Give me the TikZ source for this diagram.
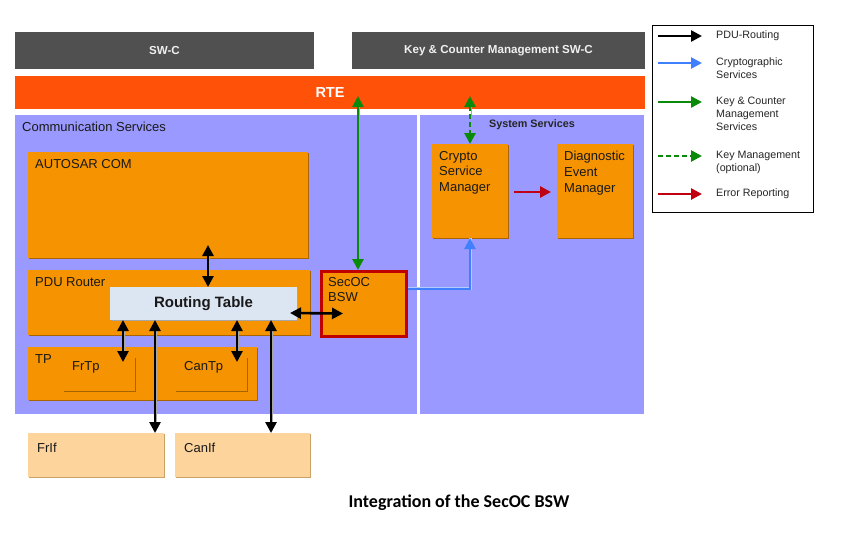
\documentclass[tikz,border=0pt]{standalone}
\usepackage{fontspec}
\setmainfont{Liberation Sans}
\newfontfamily\capfont{Carlito}
\usetikzlibrary{arrows.meta,calc,shadows}
\definecolor{swcgray}{HTML}{505050}
\definecolor{rtecol}{HTML}{FF5208}
\definecolor{panel}{HTML}{9999FF}
\definecolor{orangec}{HTML}{F59300}
\definecolor{orshadow}{HTML}{A86400}
\definecolor{lightor}{HTML}{FDD49B}
\definecolor{rtcol}{HTML}{DCE6F2}
\definecolor{secred}{HTML}{C00000}
\definecolor{grn}{HTML}{0A8A0A}
\definecolor{blu}{HTML}{4080FF}
\definecolor{errred}{HTML}{C00010}
\tikzset{
  base/.style={inner sep=0pt, outer sep=0pt, anchor=north west},
  darkbox/.style={base, fill=swcgray},
  panelbox/.style={base, fill=panel},
  obox/.style={base, fill=orangec, drop shadow={shadow xshift=1.3pt, shadow yshift=-1.3pt, fill=orshadow, opacity=1}},
  lbox/.style={base, fill=lightor, drop shadow={shadow xshift=1.3pt, shadow yshift=-1.3pt, fill=orshadow!60, opacity=1}},
  btext/.style={inner sep=0pt, anchor=west, font=\fontsize{13}{16}\selectfont, text=black!90},
  mtext/.style={inner sep=0pt, anchor=north west, align=left, font=\fontsize{13}{15.7}\selectfont, text=black!90},
  halo/.style={preaction={draw=black!35, transform canvas={xshift=1pt,yshift=-0.5pt}}},
  darrow/.style={{Triangle[length=11pt,width=11pt]}-{Triangle[length=11pt,width=11pt]}, line width=2.6pt, black, halo},
  sarrow/.style={-{Triangle[length=11pt,width=11pt]}, line width=2.6pt},
  legtext/.style={inner sep=0pt, anchor=west, align=left, font=\fontsize{10.7}{13}\selectfont, text=black!85},
}
\begin{document}
\begin{tikzpicture}[x=1pt,y=-1pt]
\useasboundingbox[fill=white] (0,0) rectangle (861,535);

% top layer
\node[darkbox, minimum width=299, minimum height=37] (swc) at (15,32) {};
\node[text=black!6, font=\fontsize{11.6}{13}\selectfont\bfseries] at (swc.center) {SW-C};
\node[darkbox, minimum width=293, minimum height=37] (kcm) at (352,32) {};
\node[text=black!6, font=\fontsize{11.6}{13}\selectfont\bfseries] at (kcm.center) {Key \& Counter Management SW-C};

\node[base, fill=rtecol, minimum width=630, minimum height=33] (rte) at (15,76) {};
\node[text=white, font=\fontsize{14.5}{16}\selectfont\bfseries] at ($(rte.west)+(315,0)$) {RTE};

% panels
\node[panelbox, minimum width=402, minimum height=299] (comm) at (15,115) {};
\node[btext] at ($(comm.north west)+(7,12)$) {Communication Services};
\node[panelbox, minimum width=224, minimum height=299] (sys) at (420,115) {};
\node[inner sep=0pt, font=\fontsize{10.8}{12}\selectfont\bfseries, text=black!85] at ($(sys.north)+(0,10)$) {System Services};

% communication boxes
\node[obox, minimum width=280, minimum height=106] (com) at (28,152) {};
\node[btext] at ($(com.north west)+(7,12)$) {AUTOSAR COM};
\node[obox, minimum width=282, minimum height=65] (pdu) at (28,270) {};
\node[btext] at ($(pdu.north west)+(7,12)$) {PDU Router};
\node[base, fill=rtcol, minimum width=187, minimum height=33, drop shadow={shadow xshift=1.2pt, shadow yshift=-1.2pt, fill=black!35, opacity=1}] (rt) at (110,287) {};
\node[inner sep=0pt, font=\fontsize{15}{17}\selectfont\bfseries, text=black!90] at (rt.center) {Routing Table};
\node[obox, minimum width=229, minimum height=53] (tp) at (28,347) {};
\node[btext] at ($(tp.north west)+(7,12)$) {TP};
\node[obox, minimum width=72, minimum height=34] (frtp) at (63,357) {};
\node[btext] at ($(frtp.north west)+(9,10)$) {FrTp};
\node[obox, minimum width=72, minimum height=34] (cantp) at (175,357) {};
\node[btext] at ($(cantp.north west)+(9,10)$) {CanTp};

\node[base, fill=orangec, draw=secred, line width=3pt, minimum width=85, minimum height=65, drop shadow={shadow xshift=1.3pt, shadow yshift=-1.3pt, fill=orshadow, opacity=1}] (secoc) at (321.5,271.5) {};
\node[mtext] at ($(secoc.north west)+(6.5,5.5)$) {SecOC\\BSW};

\node[lbox, minimum width=136, minimum height=44] (frif) at (28,433) {};
\node[btext] at ($(frif.north west)+(9,15)$) {FrIf};
\node[lbox, minimum width=135, minimum height=44] (canif) at (175,433) {};
\node[btext] at ($(canif.north west)+(9,15)$) {CanIf};

% system boxes
\node[obox, minimum width=76, minimum height=94] (csm) at (432,144) {};
\node[mtext] at ($(csm.north west)+(7,7)$) {Crypto\\Service\\Manager};
\node[obox, minimum width=76, minimum height=94] (dem) at (557,144) {};
\node[mtext] at ($(dem.north west)+(7,7)$) {Diagnostic\\Event\\Manager};

% connectors
\draw[darrow] ($(com.south west)+(180,-13)$) -- ($(rt.north west)+(98,0)$);
\draw[darrow] ($(rt.east)+(-7,9.5)$) -- ($(secoc.west)+(21.5,9.5)$);
\draw[darrow] ($(rt.south west)+(13,0)$) -- ($(frtp.north west)+(60,5)$);
\draw[darrow] ($(rt.south west)+(45,0)$) -- ($(frif.north west)+(127,0)$);
\draw[darrow] ($(rt.south west)+(127,0)$) -- ($(cantp.north west)+(62,5)$);
\draw[darrow] ($(rt.south west)+(161,0)$) -- ($(canif.north west)+(96,0)$);

\draw[darrow, grn, preaction={draw=white!70!grn}] ($(rte.south west)+(343,-13)$) -- ($(secoc.north west)+(36.5,-1.5)$);
\draw[darrow, grn, dashed, dash pattern=on 5pt off 3pt, preaction={draw=none}] ($(rte.south west)+(455,-13)$) -- (csm.north);
\draw[sarrow, blu, line width=2pt, preaction={draw=white!60!blu, line width=3pt, -}] ($(secoc.east)+(1.5,-15.5)$) -| (csm.south);
\draw[sarrow, errred] ($(csm.east)+(6,1)$) -- ($(dem.west)+(-6,1)$);

% legend
\node[base, draw=black, line width=0.8pt, minimum width=161, minimum height=187] (leg) at (652,25) {};
\coordinate (l1a) at ($(leg.north west)+(6,11)$);  \coordinate (l1b) at ($(leg.north west)+(50,11)$);
\coordinate (l2a) at ($(leg.north west)+(6,38)$);  \coordinate (l2b) at ($(leg.north west)+(50,38)$);
\coordinate (l3a) at ($(leg.north west)+(6,77)$);  \coordinate (l3b) at ($(leg.north west)+(50,77)$);
\coordinate (l4a) at ($(leg.north west)+(6,131)$); \coordinate (l4b) at ($(leg.north west)+(50,131)$);
\coordinate (l5a) at ($(leg.north west)+(6,169)$); \coordinate (l5b) at ($(leg.north west)+(50,169)$);
\draw[sarrow, black] (l1a) -- (l1b);
\draw[sarrow, blu] (l2a) -- (l2b);
\draw[sarrow, grn] (l3a) -- (l3b);
\draw[sarrow, grn, dashed, dash pattern=on 5pt off 3pt] (l4a) -- (l4b);
\draw[sarrow, errred] (l5a) -- (l5b);
\node[legtext] at ($(l1b)+(14,0)$) {PDU-Routing};
\node[legtext, anchor=north west] at ($(l2b)+(14,-5)$) {Cryptographic\\Services};
\node[legtext, anchor=north west] at ($(l3b)+(14,-5)$) {Key \& Counter\\Management\\Services};
\node[legtext, anchor=north west] at ($(l4b)+(14,-5)$) {Key Management\\(optional)};
\node[legtext] at ($(l5b)+(14,0)$) {Error Reporting};

% caption
\node[anchor=base, inner sep=0pt, font=\capfont\fontsize{18}{20}\selectfont\bfseries, text=black] (cap) at (459,507) {Integration of the SecOC BSW};
\end{tikzpicture}
\end{document}
